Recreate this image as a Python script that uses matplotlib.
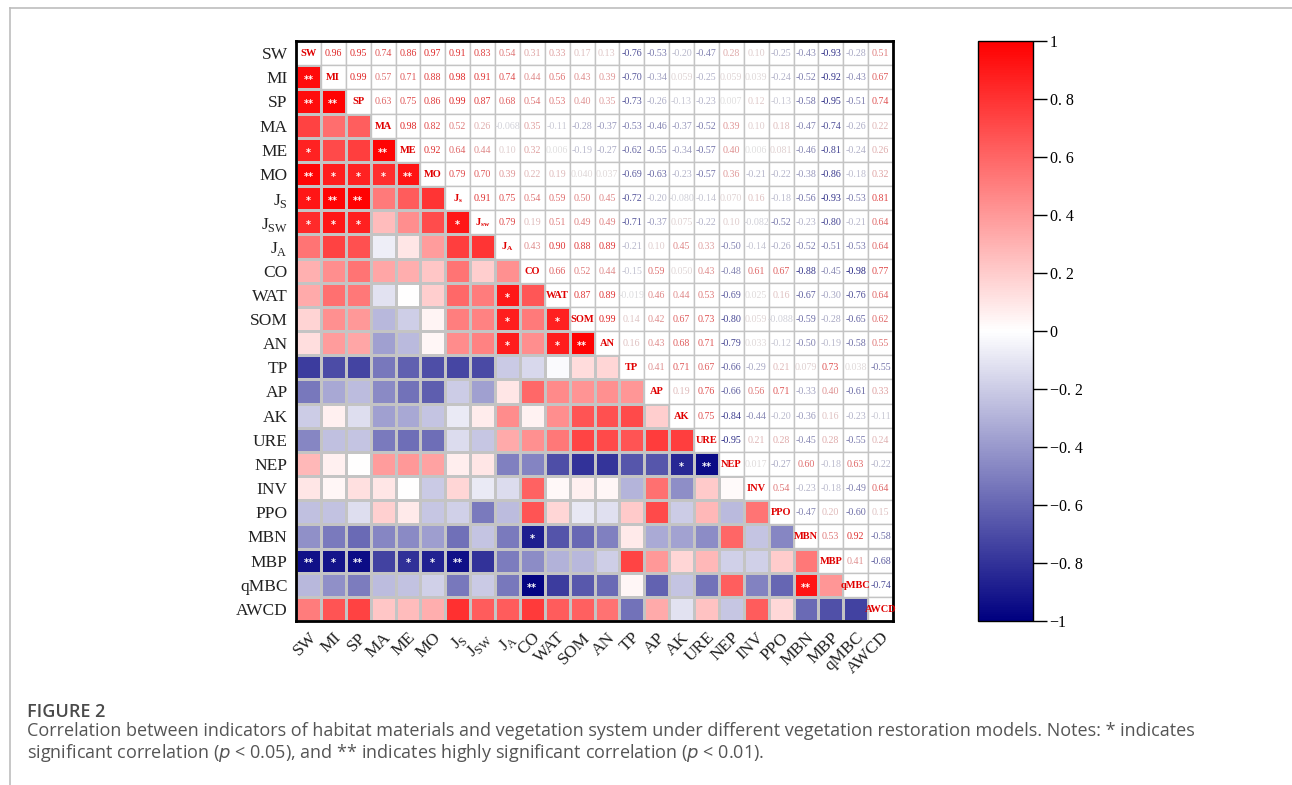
import numpy as np
import matplotlib
matplotlib.use("Agg")
import matplotlib.pyplot as plt
from matplotlib.colors import LinearSegmentedColormap

names = ["SW", "MI", "SP", "MA", "ME", "MO", "Js", "Jsw", "JA", "CO", "WAT", "SOM",
         "AN", "TP", "AP", "AK", "URE", "NEP", "INV", "PPO", "MBN", "MBP", "qMBC", "AWCD"]

axis_labels = ["SW", "MI", "SP", "MA", "ME", "MO", r"J$_\mathregular{S}$", r"J$_\mathregular{SW}$",
               r"J$_\mathregular{A}$", "CO", "WAT", "SOM", "AN", "TP", "AP", "AK", "URE", "NEP",
               "INV", "PPO", "MBN", "MBP", "qMBC", "AWCD"]
diag_labels = ["SW", "MI", "SP", "MA", "ME", "MO", r"J$_\mathregular{s}$", r"J$_\mathregular{sw}$",
               r"J$_\mathregular{A}$", "CO", "WAT", "SOM", "AN", "TP", "AP", "AK", "URE", "NEP",
               "INV", "PPO", "MBN", "MBP", "qMBC", "AWCD"]

# upper triangle, row by row (values right of the diagonal)
upper = [
    [0.96, 0.95, 0.74, 0.86, 0.97, 0.91, 0.83, 0.54, 0.31, 0.33, 0.17, 0.13, -0.76, -0.53, -0.20, -0.47, 0.28, 0.099, -0.25, -0.43, -0.93, -0.28, 0.51],
    [0.99, 0.57, 0.71, 0.88, 0.98, 0.91, 0.74, 0.44, 0.56, 0.43, 0.39, -0.70, -0.34, 0.059, -0.25, 0.059, 0.039, -0.24, -0.52, -0.92, -0.43, 0.67],
    [0.63, 0.75, 0.86, 0.99, 0.87, 0.68, 0.54, 0.53, 0.40, 0.35, -0.73, -0.26, -0.13, -0.23, 0.007, 0.12, -0.13, -0.58, -0.95, -0.51, 0.74],
    [0.98, 0.82, 0.52, 0.26, -0.068, 0.35, -0.11, -0.28, -0.37, -0.53, -0.46, -0.37, -0.52, 0.39, 0.10, 0.18, -0.47, -0.74, -0.26, 0.22],
    [0.92, 0.64, 0.44, 0.10, 0.32, 0.006, -0.19, -0.27, -0.62, -0.55, -0.34, -0.57, 0.40, 0.006, 0.081, -0.46, -0.81, -0.24, 0.26],
    [0.79, 0.70, 0.39, 0.22, 0.19, 0.04, 0.037, -0.69, -0.63, -0.23, -0.57, 0.36, -0.21, -0.22, -0.38, -0.86, -0.18, 0.32],
    [0.91, 0.75, 0.54, 0.59, 0.50, 0.45, -0.72, -0.20, -0.080, -0.14, 0.070, 0.16, -0.18, -0.56, -0.93, -0.53, 0.81],
    [0.79, 0.19, 0.51, 0.49, 0.49, -0.71, -0.37, 0.075, -0.22, 0.100, -0.082, -0.52, -0.23, -0.80, -0.21, 0.64],
    [0.43, 0.90, 0.88, 0.89, -0.21, 0.10, 0.45, 0.33, -0.50, -0.14, -0.26, -0.52, -0.51, -0.53, 0.64],
    [0.66, 0.52, 0.44, -0.15, 0.59, 0.050, 0.43, -0.48, 0.61, 0.67, -0.88, -0.45, -0.98, 0.77],
    [0.87, 0.89, -0.019, 0.46, 0.44, 0.53, -0.69, 0.025, 0.16, -0.67, -0.30, -0.76, 0.64],
    [0.99, 0.14, 0.42, 0.67, 0.73, -0.80, 0.059, -0.088, -0.59, -0.28, -0.65, 0.62],
    [0.16, 0.43, 0.68, 0.71, -0.79, 0.033, -0.12, -0.50, -0.19, -0.58, 0.55],
    [0.41, 0.71, 0.67, -0.66, -0.29, 0.21, 0.079, 0.73, 0.038, -0.55],
    [0.19, 0.76, -0.66, 0.56, 0.71, -0.33, 0.40, -0.61, 0.33],
    [0.75, -0.84, -0.44, -0.20, -0.36, 0.16, -0.23, -0.11],
    [-0.95, 0.21, 0.28, -0.45, 0.28, -0.55, 0.24],
    [0.017, -0.27, 0.60, -0.18, 0.63, -0.22],
    [0.54, -0.23, -0.18, -0.49, 0.64],
    [-0.47, 0.20, -0.60, 0.15],
    [0.53, 0.92, -0.58],
    [0.41, -0.68],
    [-0.74],
]

# significance marks in the lower triangle: (row, col, mark)
stars = [
    ("MI", "SW", "**"), ("SP", "SW", "**"), ("SP", "MI", "**"),
    ("ME", "SW", "*"), ("ME", "MA", "**"),
    ("MO", "SW", "**"), ("MO", "MI", "*"), ("MO", "SP", "*"), ("MO", "MA", "*"), ("MO", "ME", "**"),
    ("Js", "SW", "*"), ("Js", "MI", "**"), ("Js", "SP", "**"),
    ("Jsw", "SW", "*"), ("Jsw", "MI", "*"), ("Jsw", "SP", "*"), ("Jsw", "Js", "*"),
    ("WAT", "JA", "*"), ("SOM", "JA", "*"), ("SOM", "WAT", "*"),
    ("AN", "JA", "*"), ("AN", "WAT", "*"), ("AN", "SOM", "**"),
    ("NEP", "AK", "*"), ("NEP", "URE", "**"),
    ("MBN", "CO", "*"),
    ("MBP", "SW", "**"), ("MBP", "MI", "*"), ("MBP", "SP", "**"), ("MBP", "ME", "*"),
    ("MBP", "MO", "*"), ("MBP", "Js", "**"),
    ("qMBC", "CO", "**"), ("qMBC", "MBN", "**"),
]

n = len(names)
corr = np.eye(n)
for i, row in enumerate(upper):
    for k, v in enumerate(row):
        corr[i, i + 1 + k] = v
        corr[i + 1 + k, i] = v

cmap = LinearSegmentedColormap.from_list("bwr2", ["#000080", "#ffffff", "#ff0000"])
cmap.set_bad("white")

fig = plt.figure(figsize=(12.92, 7.85), dpi=100)

# page frame lines
fig.add_artist(plt.Line2D([10 / 1292, 1.0], [1 - 8 / 785, 1 - 8 / 785], color="#bdbdbd", lw=1.2))
fig.add_artist(plt.Line2D([10 / 1292, 10 / 1292], [0, 1 - 8 / 785], color="#bdbdbd", lw=1.2))

ax = fig.add_axes([296 / 1292, 1 - 621 / 785, 597 / 1292, 580 / 785])
mask = np.triu(np.ones((n, n), dtype=bool))
shown = np.ma.masked_array(corr, mask=mask)
mesh = ax.pcolormesh(np.arange(n + 1), np.arange(n + 1), shown, cmap=cmap, vmin=-1, vmax=1,
                     edgecolors="#c4c4c4", linewidth=1.0)
# white cells with grid for the upper triangle
for i in range(n):
    for j in range(i, n):
        ax.add_patch(plt.Rectangle((j, i), 1, 1, facecolor="white", edgecolor="#c4c4c4", lw=1.0))
ax.set_xlim(0, n)
ax.set_ylim(n, 0)

serif = "Liberation Serif"
grey = np.array([0.5, 0.5, 0.5])
for i in range(n):
    ax.text(i + 0.5, i + 0.52, diag_labels[i], ha="center", va="center", color="#e00000",
            fontsize=7.5, family=serif, fontweight="bold")
    for j in range(i + 1, n):
        v = corr[i, j]
        s = f"{v:.3f}" if abs(v) < 0.095 else f"{v:.2f}"
        c = 0.75 * np.array(cmap((v + 1) / 2)[:3]) + 0.25 * grey
        ax.text(j + 0.5, i + 0.52, s, ha="center", va="center", color=c, fontsize=7.2,
                family=serif)

for r, c, m in stars:
    i, j = names.index(r), names.index(c)
    ax.text(j + 0.5, i + 0.62, m, ha="center", va="center", color="white", fontsize=7,
            fontweight="bold")

ax.set_xticks(np.arange(n) + 0.5)
ax.set_yticks(np.arange(n) + 0.5)
ax.set_xticklabels(axis_labels, rotation=45, ha="right", rotation_mode="anchor",
                   family=serif, fontsize=12.5, color="#222222")
ax.set_yticklabels(axis_labels, family=serif, fontsize=12.5, color="#222222")
ax.tick_params(length=0, pad=6)
for sp in ax.spines.values():
    sp.set_linewidth(2)

cax = fig.add_axes([978 / 1292, 1 - 621 / 785, 55 / 1292, 580 / 785])
cb = fig.colorbar(mesh, cax=cax)
ticks = np.round(np.arange(-1, 1.01, 0.2), 1)
cb.set_ticks(ticks)
labs = []
for t in ticks:
    if t == 0:
        labs.append("0")
    elif abs(t) == 1:
        labs.append("−1" if t < 0 else "1")
    else:
        labs.append(("−" if t < 0 else "") + "0. " + str(int(round(abs(t) * 10))))
cb.set_ticklabels(labs)
cax.tick_params(direction="out", length=10, width=1, labelsize=11.5, pad=2)
for lab in cax.get_yticklabels():
    lab.set_family(serif)
cb.outline.set_linewidth(1)

fig.text(27 / 1292, 1 - 712 / 785, "FIGURE 2", fontsize=13, color="#4a4a4a",
         family="Open Sans", fontweight="semibold", va="center")
fig.text(27 / 1292, 1 - 731 / 785,
         "Correlation between indicators of habitat materials and vegetation system under different vegetation restoration models. Notes: * indicates",
         fontsize=13, color="#555555", family="Open Sans", va="center")
fig.text(27 / 1292, 1 - 753 / 785,
         "significant correlation ($p$ < 0.05), and ** indicates highly significant correlation ($p$ < 0.01).",
         fontsize=13, color="#555555", family="Open Sans", va="center")

fig.savefig("out.png", dpi=100)
